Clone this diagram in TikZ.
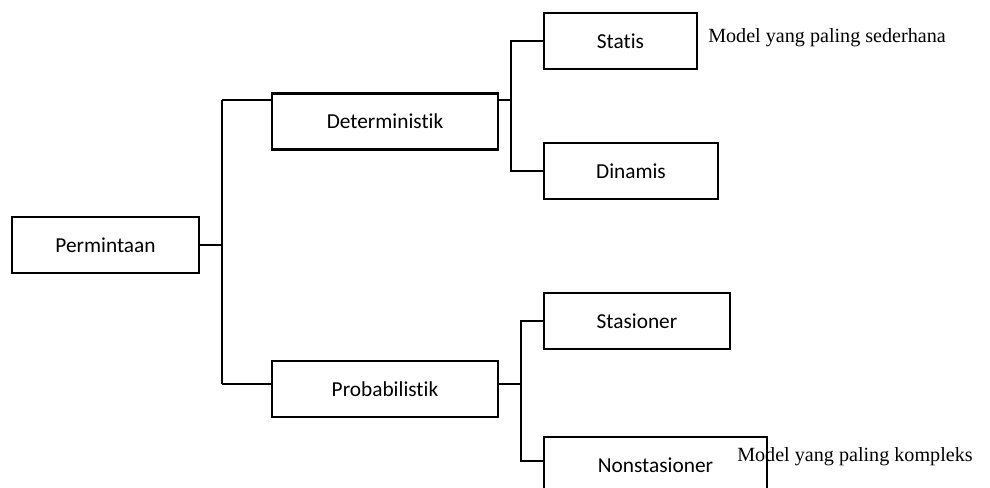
\documentclass[tikz,border=0pt]{standalone}
\usepackage{fontspec}
\setmainfont{Liberation Serif}
\newfontfamily\boxfont[Ligatures=NoCommon]{Carlito}
\usetikzlibrary{positioning, calc}

\begin{document}
\begin{tikzpicture}[x=0.75pt, y=-0.75pt,
		box/.style={draw, line width=1.8pt, minimum height=42pt, inner sep=0pt, font=\boxfont\fontsize{16}{19}\selectfont},
		conn/.style={line width=1.8pt},
		note/.style={anchor=west, inner sep=0pt, font=\fontsize{15.1}{18}\selectfont}]
		\useasboundingbox (0, 0) rectangle (990, 488);
		\node[box, minimum width=140pt] (perm) at (105.5, 245) {Permintaan};
		\node[box, minimum width=169.5pt] (det) at (385, 121.5) {Deterministik};
		\node[box, minimum width=169.5pt] (prob) at (385, 389) {Probabilistik};
		\node[box, minimum width=115pt] (statis) at (620.5, 41) {Statis};
		\node[box, minimum width=130.5pt] (dinamis) at (631, 171) {Dinamis};
		\node[box, minimum width=139.5pt] (stas) at (637, 321) {Stasioner};
		\node[box, minimum width=167pt] (nonstas) at (655.5, 465) {Nonstasioner};
		\node[note] (noteA) at (708, 38) {Model yang paling sederhana};
		\node[note] (noteB) at (737, 457) {Model yang paling kompleks};
		\coordinate (jA) at (222, 100);
		\coordinate (jB) at (222, 384);
		\coordinate (jC) at (511, 100);
		\coordinate (jD) at (521, 384);
		\draw[conn] (perm.east) -- (perm.east -| jA);
		\draw[conn] (jA) -- (jB);
		\draw[conn] (jA) -- (det.west |- jA);
		\draw[conn] (jB) -- (prob.west |- jB);
		\draw[conn] (det.east |- jC) -- (jC);
		\draw[conn] (prob.east |- jD) -- (jD);
		\draw[conn] (statis.west) -| (jC) |- (dinamis.west);
		\draw[conn] (stas.west) -| (jD) |- ($(nonstas.west) + (0, -4)$);
	\end{tikzpicture}
\end{document}
